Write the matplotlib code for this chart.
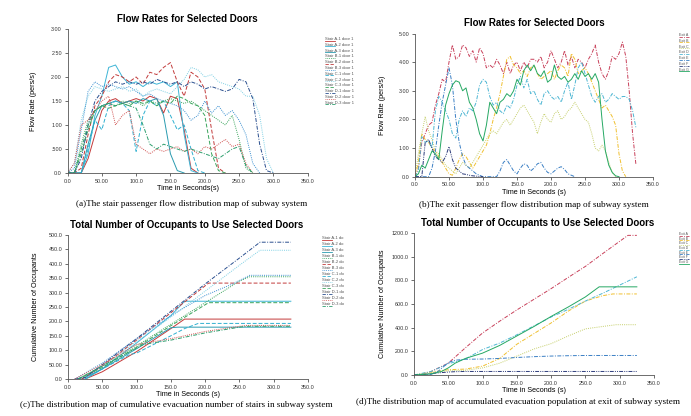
import numpy as np
import matplotlib
matplotlib.use("Agg")
import matplotlib.pyplot as plt
from matplotlib.lines import Line2D

plt.rcParams['font.family'] = ['Liberation Sans', 'DejaVu Sans']

W, H = 691, 416

# ---------------- data: (a) stair flow rates, 10 s steps ----------------
t_a = list(range(0, 320, 10))
stair_names = ["Stair A-1 door 1", "Stair A-2 door 1", "Stair A-3 door 1",
               "Stair B-1 door 1", "Stair B-2 door 1", "Stair B-3 door 1",
               "Stair C-1 door 1", "Stair C-2 door 1", "Stair C-3 door 1",
               "Stair D-1 door 1", "Stair D-2 door 1", "Stair D-3 door 1"]
flow_a1 = [0, 0, 0, 0.3, 0.8, 1.3, 1.5, 1.55, 1.45, 1.5, 1.55, 1.5, 1.6, 1.55, 1.25, 1.6, 1.55, 0.9, 0.1, 0]
flow_a2 = [0, 0, 0, 0.4, 1.2, 1.6, 2.2, 2.25, 2.0, 1.85, 1.9, 1.8, 1.9, 1.85, 1.9, 1.8, 1.9, 0.8, 0.05, 0]
flow_a3 = [0, 0, 0, 0.6, 1.1, 1.4, 1.45, 1.5, 1.45, 1.5, 1.45, 1.55, 1.5, 1.55, 1.2, 0.4, 0.05, 0]
flow_b1 = [0, 0, 0.6, 1.1, 1.3, 1.4, 1.45, 1.4, 1.5, 1.45, 1.5, 1.4, 1.5, 1.45, 1.5, 1.55, 1.5, 1.45, 1.5, 1.4,
           1.3, 1.2, 1.1, 1.0, 1.2, 0.7, 0.1, 0]
flow_b2 = [0, 0, 0.1, 0.8, 1.4, 1.6, 1.9, 2.05, 2.0, 1.9, 2.0, 1.85, 2.1, 2.05, 2.2, 2.3, 1.9, 1.6, 2.1, 2.0,
           1.75, 0.9, 0.1, 0]
flow_b3 = [0, 0.1, 0.9, 1.7, 1.9, 1.8, 1.85, 1.8, 1.75, 1.8, 1.7, 1.6, 1.65, 1.55, 1.5, 1.45, 1.4, 1.3, 1.1, 1.2,
           1.5, 1.25, 1.4, 1.2, 1.3, 1.1, 0.8, 0.2, 0]
flow_c1 = [0, 0, 0, 0.5, 1.1, 0.9, 1.4, 1.5, 1.45, 1.3, 0.45, 1.2, 1.5, 1.4, 1.5, 1.2, 0.9, 1.0, 0.5, 0.05, 0]
flow_c2 = [0, 0.2, 1.1, 1.6, 1.8, 1.75, 1.7, 1.75, 1.8, 1.7, 1.75, 1.6, 1.7, 1.75, 1.7, 1.65, 1.8, 1.95, 2.2, 2.15,
           2.0, 2.05, 1.9, 1.85, 1.8, 1.75, 1.6, 1.6, 1.2, 0.3, 0]
flow_c3 = [0, 0, 0.4, 0.9, 1.3, 1.4, 1.35, 1.4, 1.45, 1.4, 1.5, 1.45, 1.5, 1.4, 1.5, 1.45, 1.6, 1.55, 1.45, 1.4,
           1.2, 0.4, 0.05, 0]
flow_d1 = [0, 0, 0.3, 1.0, 1.5, 1.7, 1.8, 1.9, 1.85, 1.9, 1.85, 1.9, 1.85, 1.95, 1.9, 1.85, 1.9, 1.8, 1.9, 1.85,
           1.75, 1.8, 1.75, 1.7, 1.75, 1.95, 1.9, 1.55, 0.6, 0.05, 0]
flow_d2 = [0, 0.2, 1.0, 1.1, 1.3, 1.5, 1.6, 1.0, 1.2, 1.3, 0.6, 0.5, 0.4, 0.5, 0.45, 0.5, 0.55, 0.45, 0.5, 0.4,
           0.55, 0.5, 0.6, 0.7, 0.55, 0.6, 0.2, 0]
flow_d3 = [0, 0, 0.5, 1.0, 1.3, 1.4, 1.45, 1.4, 1.45, 1.4, 1.35, 1.0, 0.6, 0.5, 0.6, 0.55, 0.5, 0.45, 0.5, 0.45,
           0.4, 0.35, 0.3, 0.4, 0.5, 0.55, 0.15, 0]
stair_flows = [flow_a1, flow_a2, flow_a3, flow_b1, flow_b2, flow_b3,
               flow_c1, flow_c2, flow_c3, flow_d1, flow_d2, flow_d3]

# ---------------- data: (c) stair cumulative counts ----------------
cum_a1 = ([25, 50, 100, 150, 170, 325], [0, 25, 95, 175, 208, 208])
cum_a2 = ([25, 50, 100, 150, 170, 325], [0, 35, 125, 220, 270, 270])
cum_a3 = ([20, 50, 100, 150, 160, 325], [0, 35, 105, 178, 180, 180])
cum_b1 = ([15, 50, 100, 150, 200, 250, 265, 325], [0, 45, 115, 190, 265, 340, 355, 355])
cum_b2 = ([20, 50, 100, 150, 205, 325], [0, 45, 135, 230, 333, 333])
cum_b3 = ([10, 50, 100, 150, 200, 240, 265, 325], [0, 55, 140, 220, 290, 330, 360, 360])
cum_c1 = ([25, 50, 90, 100, 150, 170, 190, 325], [0, 35, 85, 90, 150, 175, 193, 193])
cum_c2 = ([10, 30, 50, 100, 150, 200, 250, 280, 325], [0, 15, 45, 130, 215, 305, 395, 447, 447])
cum_c3 = ([15, 50, 100, 150, 205, 325], [0, 40, 110, 185, 265, 265])
cum_d1 = ([10, 25, 50, 100, 150, 200, 250, 280, 325], [0, 5, 50, 140, 235, 330, 420, 475, 475])
cum_d2 = ([10, 50, 100, 150, 200, 250, 260, 325], [0, 50, 120, 140, 165, 183, 186, 186])
cum_d3 = ([15, 50, 110, 150, 200, 250, 260, 325], [0, 45, 120, 135, 160, 180, 183, 183])
stair_cums = [cum_a1, cum_a2, cum_a3, cum_b1, cum_b2, cum_b3,
              cum_c1, cum_c2, cum_c3, cum_d1, cum_d2, cum_d3]

# ---------------- data: (b) exit flow rates, 5 s steps ----------------
t_b = list(range(0, 330, 5))
exit_names = ["Exit A", "Exit B", "Exit C", "Exit D", "Exit E", "Exit F", "Exit G"]
flow_ea = [0, 0.3, 1.2, 1.5, 1.8, 1.9, 2.5, 2.9, 3.4, 3.3,
           4.0, 4.6, 4.1, 4.2, 4.6, 4.5, 4.2, 4.4, 4.0, 4.5,
           4.3, 3.8, 3.9, 3.8, 4.1, 3.9, 3.6, 4.0, 3.6, 3.9,
           4.0, 3.7, 4.0, 3.8, 4.1, 4.1, 4.0, 4.2, 3.8, 4.0,
           4.4, 4.1, 3.8, 4.0, 4.4, 3.9, 4.2, 3.8, 4.1, 4.0,
           3.8, 4.1, 4.3, 4.6, 4.0, 3.6, 3.4, 3.7, 4.2, 4.1,
           4.3, 4.7, 4.2, 3.0, 1.5, 0.4]
flow_eb = [0, 0.5, 1.5, 1.3, 1.2, 1.0, 0.9, 0.7, 0.5, 0.3,
           0.1, 0.05, 0.3, 0.6, 0.8, 0.7, 0.5, 0.3, 0.5, 0.7,
           0.9, 1.1, 1.5, 2.0, 2.4, 2.9, 3.5, 4.1, 4.2, 3.9,
           3.8, 3.6, 3.7, 3.5, 3.8, 3.9, 3.6, 3.4, 3.5, 3.6,
           3.7, 3.4, 3.7, 3.9, 3.8, 3.5, 4.3, 4.1, 3.6, 3.7,
           3.8, 3.6, 3.3, 3.0, 2.7, 2.4, 2.5, 2.3, 2.1, 1.8,
           0.8, 0.2, 0]
flow_ec = [0, 0.8, 1.5, 2.1, 1.6, 1.3, 0.9, 0.8, 0.6, 0.4,
           0.3, 0.2, 0.1, 0.3, 0.5, 0.4, 0.3, 0.5, 0.7, 0.9,
           1.1, 1.3, 1.5, 1.6, 1.5, 1.7, 1.9, 2.0, 1.8, 2.0,
           2.2, 2.4, 2.5, 2.3, 2.1, 1.9, 1.5, 1.9, 2.2, 2.0,
           1.9, 2.2, 2.3, 2.0, 2.1, 2.3, 2.4, 2.6, 2.4, 2.2,
           2.0, 1.9, 1.5, 1.0, 0.9, 1.1, 0.9, 0.5, 0.15, 0]
flow_ed = [0, 0.2, 1.4, 1.2, 1.25, 1.0, 2.3, 2.8, 2.6, 2.3,
           2.0, 1.5, 1.35, 2.0, 2.3, 2.1, 2.4, 2.3, 2.6, 3.2,
           3.4, 3.3, 2.8, 2.5, 2.6, 2.3, 2.2, 2.5, 2.4, 2.7,
           3.2, 3.5, 3.1, 3.4, 2.9, 3.0, 2.7, 2.5, 2.9, 3.0,
           2.8, 2.7, 2.8, 2.6, 3.0, 3.3, 2.7, 3.2, 3.8, 4.0,
           3.6, 3.2, 2.8, 2.6, 2.8, 2.9, 2.6, 2.7, 2.9, 2.8,
           2.7, 2.8, 2.8, 2.7, 2.3, 1.7]
flow_ee = [0, 0, 0, 0, 0, 0.3, 0.9, 1.8, 2.6, 3.2,
           3.8, 3.2, 2.0, 1.2, 0.7, 0.4, 0.3, 0.2, 0.1, 0.05,
           0, 0, 0, 0, 0, 0.2, 0.5, 0.6, 0.4, 0.2,
           0.1, 0.3, 0.45, 0.4, 0.2, 0.3, 0.45, 0.5, 0.3, 0.15,
           0.1, 0.2, 0.3, 0.35, 0.25, 0.1, 0.05, 0]
flow_ef = [0, 0, 0, 1.2, 1.3, 1.0, 0.7, 0.6, 0.5, 0.7,
           1.05, 0.6, 0.3, 0.2, 0.1, 0.08, 0.05, 0.03, 0.02, 0.01, 0]
flow_eg = [0, 0.1, 0.4, 0.3, 0.6, 0.9, 0.8, 0.6, 1.6, 2.5,
           2.9, 3.2, 3.35, 3.3, 3.0, 3.1, 2.6, 2.4, 2.0, 1.5,
           1.25, 1.8, 2.6, 2.4, 2.2, 2.6, 2.7, 2.9, 2.8, 3.0,
           3.4, 3.2, 3.7, 3.9, 3.7, 3.9, 3.6, 3.5, 3.7, 3.3,
           3.4, 3.9, 3.5, 3.4, 3.5, 3.3, 3.4, 3.6, 3.4, 3.7,
           3.5, 3.6, 3.4, 3.6, 3.3, 2.0, 0.9, 0.4, 0.15, 0.03, 0]
exit_flows = [flow_ea, flow_eb, flow_ec, flow_ed, flow_ee, flow_ef, flow_eg]

# ---------------- data: (d) exit cumulative counts ----------------
cum_ea = ([0, 10, 25, 50, 75, 100, 125, 150, 175, 200, 225, 250, 275, 300, 312, 325],
          [0, 5, 30, 100, 230, 355, 455, 550, 640, 730, 825, 918, 1025, 1130, 1180, 1180])
cum_eb = ([0, 25, 50, 75, 100, 125, 150, 175, 200, 225, 250, 275, 290, 325],
          [0, 25, 45, 50, 75, 140, 260, 350, 440, 540, 625, 670, 685, 685])
cum_ec = ([0, 25, 50, 75, 100, 125, 150, 175, 200, 225, 250, 275, 295, 325],
          [0, 20, 35, 40, 60, 100, 160, 220, 265, 330, 390, 410, 425, 425])
cum_ed = ([0, 25, 50, 75, 100, 125, 150, 175, 200, 225, 250, 275, 300, 325],
          [0, 30, 95, 135, 215, 270, 340, 415, 490, 555, 625, 690, 760, 830])
cum_ee = ([0, 25, 35, 50, 60, 75, 100, 125, 150, 175, 200, 225, 250, 325],
          [0, 5, 30, 105, 125, 133, 135, 140, 148, 155, 160, 163, 165, 165])
cum_ef = ([0, 15, 30, 50, 60, 75, 100, 325], [0, 5, 15, 25, 28, 30, 30, 30])
cum_eg = ([0, 25, 40, 50, 60, 75, 100, 125, 150, 175, 200, 225, 250, 270, 325],
          [0, 10, 30, 60, 100, 140, 185, 250, 330, 410, 495, 575, 660, 745, 745])
exit_cums = [cum_ea, cum_eb, cum_ec, cum_ed, cum_ee, cum_ef, cum_eg]

x_ticks = [0, 50, 100, 150, 200, 250, 300, 350]
x_labels = ["0.0", "50.00", "100.0", "150.0", "200.0", "250.0", "300.0", "350.0"]

# ---------------- styles ----------------
DASH = (0, (4, 2))
DOT = (0, (1, 1.2))
DDOT = (0, (4, 1.5, 1, 1.5))
DDD = (0, (4, 1.2, 1, 1.2, 1, 1.2))
stair_styles = [("#c43a3a", "-"), ("#3db5d6", "-"), ("#2a9bb0", "-"),
                ("#3aa55c", DOT), ("#c23b3b", DASH), ("#3a8fd0", DOT),
                ("#2fb0d0", DASH), ("#7fd0e4", DOT), ("#3aa55c", DASH),
                ("#2a4f8f", DDOT), ("#d0504f", DOT), ("#2e9f6e", DDOT)]
exit_styles = [("#c8405a", DDOT), ("#f0c030", DDOT), ("#c5cf6a", DOT),
               ("#4db6d3", DDOT), ("#3a7fc4", DDOT), ("#2b3a7a", DDD),
               ("#25a863", "-")]


def px_axes(left, top, right, bottom):
    return fig.add_axes([left / W, 1 - bottom / H, (right - left) / W, (bottom - top) / H])


def style_axes(ax, ymax, yticks, ylabels, ylabel, ypad=4, xlabel="Time in Seconds (s)"):
    ax.set_xlim(0, 350)
    ax.set_ylim(0, ymax)
    ax.set_xticks(x_ticks)
    ax.set_xticklabels(x_labels)
    ax.set_yticks(yticks)
    ax.set_yticklabels(ylabels)
    for s in ["top", "right"]:
        ax.spines[s].set_visible(False)
    for s in ["left", "bottom"]:
        ax.spines[s].set_color("#555555")
        ax.spines[s].set_linewidth(0.6)
    ax.tick_params(labelsize=3.9, length=2.5, width=0.5, pad=1.5, colors="#333333")
    ax.set_xlabel(xlabel, fontsize=5.2, labelpad=1)
    ax.set_ylabel(ylabel, fontsize=5.2, labelpad=ypad)
    ax.patch.set_alpha(0)


def draw_legend(names, styles, x0, y0, step, size=3.0):
    for i, (name, (c, ls)) in enumerate(zip(names, styles)):
        y = y0 + i * step
        fig.text(x0 / W, 1 - y / H, name, fontsize=size, color="#555555", ha="left", va="center")
        fig.add_artist(Line2D([x0 / W, (x0 + 10) / W], [1 - (y + 1.6) / H] * 2,
                              color=c, lw=0.6, linestyle=ls))


fig = plt.figure(figsize=(W / 100, H / 100), dpi=100)

# (a)
ax = px_axes(67.5, 29, 307.7, 173)
for v, (c, ls) in zip(stair_flows, stair_styles):
    ax.plot(t_a[:len(v)], v, color=c, linestyle=ls, lw=0.7)
style_axes(ax, 3.0, [0, 0.5, 1, 1.5, 2, 2.5, 3],
           ["0.0", ".500", "1.00", "1.50", "2.00", "2.50", "3.00"], "Flow Rate (pers/s)",
           ypad=10, xlabel="Time in Seconds(s)")
draw_legend(stair_names, stair_styles, 325, 39, 5.8)

# (b)
ax = px_axes(415, 33.5, 653, 176.7)
for v, (c, ls) in zip(exit_flows, exit_styles):
    ax.plot(t_b[:len(v)], v, color=c, linestyle=ls, lw=0.7)
style_axes(ax, 5.0, [0, 1, 2, 3, 4, 5],
           ["0.0", "1.00", "2.00", "3.00", "4.00", "5.00"], "Flow Rate (pers/s)", ypad=9)
draw_legend(exit_names, exit_styles, 679, 35, 5.8, size=2.6)

# (c)
ax = px_axes(68, 235, 308, 379)
for (tt, v), (c, ls) in zip(stair_cums, stair_styles):
    ax.plot(tt, v, color=c, linestyle=ls, lw=0.7)
style_axes(ax, 500, list(range(0, 550, 50)),
           ["0.0", "50.00", "100.0", "150.0", "200.0", "250.0", "300.0", "350.0", "400.0", "450.0", "500.0"],
           "Cumulative Number of Occupants", ypad=7)
draw_legend([n[:12] for n in stair_names], stair_styles, 322, 238, 6.0)

# (d)
ax = px_axes(414, 233, 654, 375)
for (tt, v), (c, ls) in zip(exit_cums, exit_styles):
    ax.plot(tt, v, color=c, linestyle=ls, lw=0.7)
style_axes(ax, 1200, list(range(0, 1400, 200)),
           ["0.0", "200.0", "400.0", "600.0", "800.0", "1000.0", "1200.0"],
           "Cumulative Number of Occupants")
draw_legend(exit_names, exit_styles, 679, 234, 4.7, size=2.4)

# titles
for txt, x, y in [("Flow Rates for Selected Doors", 187, 19),
                  ("Flow Rates for Selected Doors", 534, 23),
                  ("Total Number of Occupants to Use Selected Doors", 187, 225),
                  ("Total Number of Occupants to Use Selected Doors", 538, 223)]:
    fig.text(x / W, 1 - y / H, txt, fontsize=7, fontweight="bold", ha="center", va="center")

# captions
for txt, x, y in [("(a)The stair passenger flow distribution map of subway system", 192, 204),
                  ("(b)The exit passenger flow distribution map of subway system", 534, 205),
                  ("(c)The distribution map of cumulative evacuation number of stairs in subway system", 176, 405),
                  ("(d)The distribution map of accumulated evacuation population at exit of subway system", 518, 402)]:
    fig.text(x / W, 1 - y / H, txt, fontsize=6.6, family="Liberation Serif", ha="center", va="center")

plt.savefig("out.png", dpi=100)
